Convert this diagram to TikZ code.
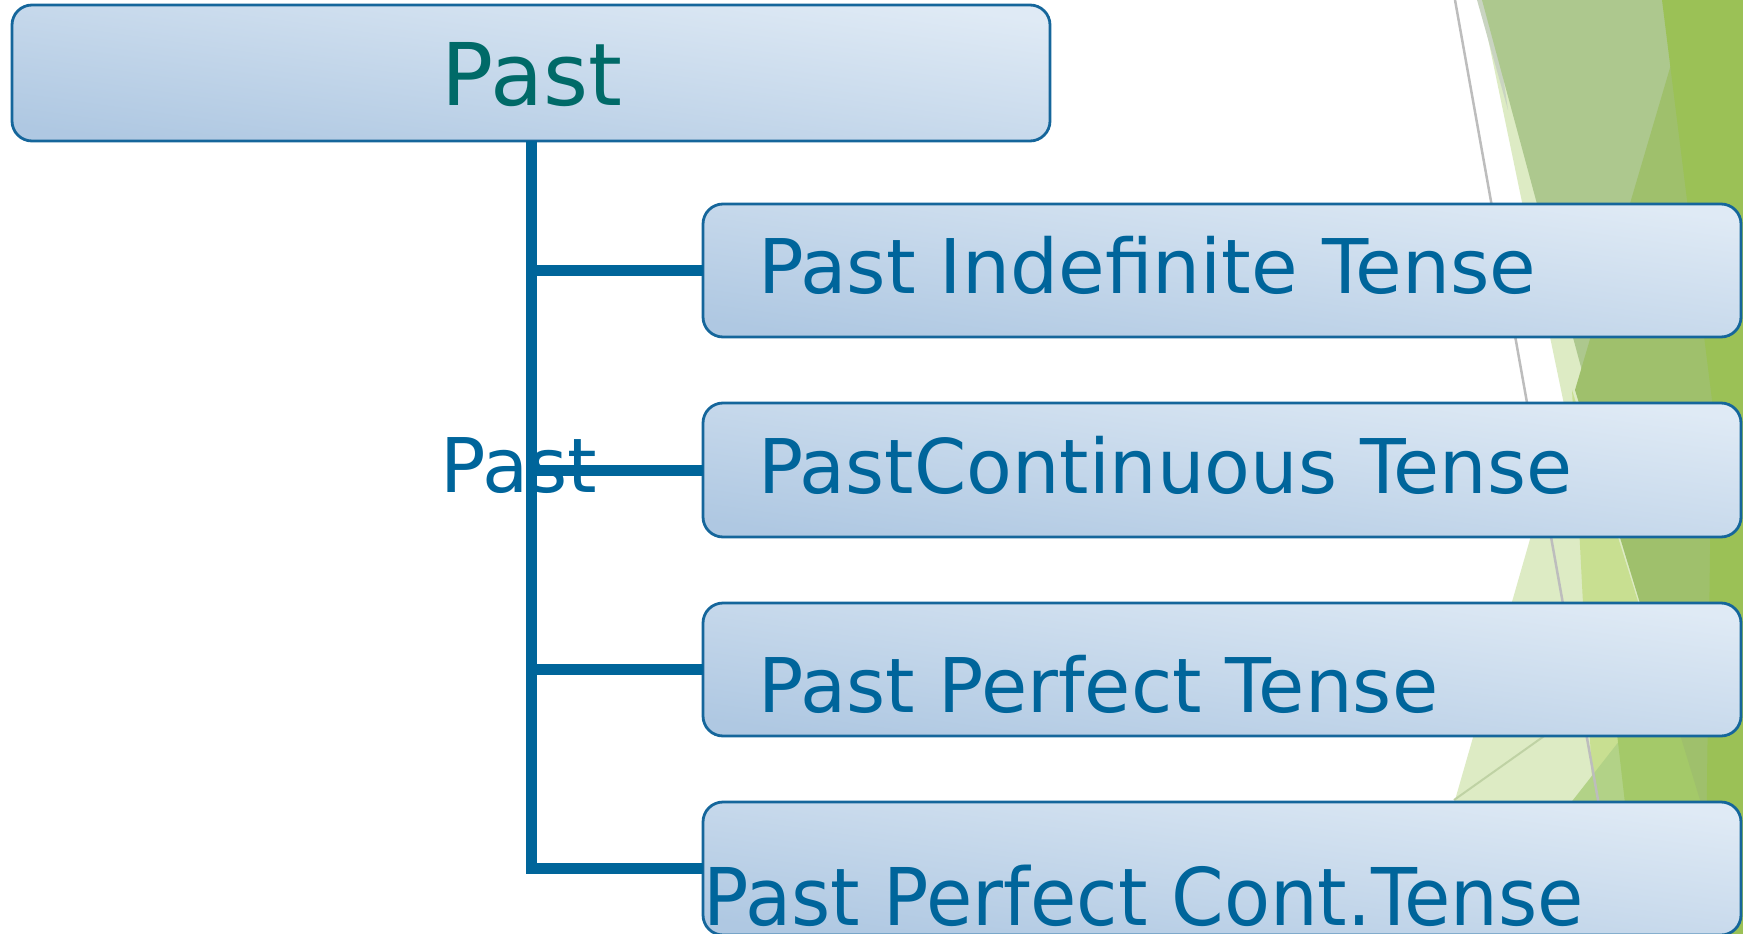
\documentclass[tikz,border=0pt]{standalone}
\usepackage{fontspec}
\setmainfont{DejaVu Sans}
\usepackage{graphicx}
\usetikzlibrary{calc}
\definecolor{bxlight}{HTML}{DFEAF5}
\definecolor{bxdark}{HTML}{AFC8E2}
\definecolor{bxborder}{HTML}{15669B}
\definecolor{txtblue}{HTML}{00659B}
\definecolor{txtteal}{HTML}{006A68}
\definecolor{conncol}{HTML}{00659A}
\definecolor{gpale}{HTML}{DDEBC4}
\definecolor{gsliver}{HTML}{C9D4C1}
\definecolor{glight}{HTML}{C8DF91}
\definecolor{glow}{HTML}{B2D287}
\definecolor{gmid}{HTML}{A4C969}
\definecolor{gmed}{HTML}{ADC88E}
\definecolor{gdark}{HTML}{9FC06C}
\definecolor{gbright}{HTML}{9BC156}
\definecolor{lgray}{HTML}{BDBDBD}
\definecolor{lgreen}{HTML}{BFD2A4}
\begin{document}
\begin{tikzpicture}[x=1pt,y=-1pt,
  bx/.style={draw=bxborder, line width=2.8pt, rounded corners=20pt,
    shading=axis, top color=bxlight, bottom color=bxdark, shading angle=-8,
    inner sep=0pt, outer sep=0pt, anchor=north west},
  conn/.style={draw=conncol, line width=11pt},
  lbl/.style={inner sep=0pt, outer sep=0pt, anchor=base west, text=txtblue,
    font=\fontsize{75.4}{90}\selectfont}]
\useasboundingbox (0,0) rectangle (1743,934);
% background facets
\fill[gpale] (1480,0) -- (1743,0) -- (1743,934) -- (1417,934) -- (1455,800) -- (1566,414) -- cycle;
\fill[gsliver] (1477,0) -- (1492,0) -- (1508,110) -- cycle;
\fill[glight] (1572,390) -- (1700,800) -- (1700,934) -- (1600,934) -- cycle;
\fill[glow] (1743,583) -- (1743,934) -- (1468,934) -- cycle;
\fill[gmid] (1612,690) -- (1700,690) -- (1700,934) -- (1640,934) -- cycle;
\fill[gmed] (1482,0) -- (1692,0) -- (1585,382) -- cycle;
\fill[gdark] (1690,0) -- (1743,0) -- (1743,934) -- (1700,934) -- (1700,800) -- (1575,390) -- cycle;
\fill[gbright] (1662,0) -- (1743,0) -- (1743,934) -- (1705,934) -- (1712,400) -- cycle;
\draw[lgray, line width=2.5pt] (1455,0) -- (1622,934);
\draw[lgreen, line width=2pt] (1454,800) -- (1640,668);
% boxes
\node[bx, minimum width=1038pt, minimum height=136pt] (p) at (12,5) {};
\node[bx, minimum width=1038pt, minimum height=133pt] (c1) at (703,204) {};
\node[bx, minimum width=1038pt, minimum height=134pt] (c2) at (703,403) {};
\node[bx, minimum width=1038pt, minimum height=133pt] (c3) at (703,603) {};
\node[bx, minimum width=1038pt, minimum height=133pt] (c4) at (703,802) {};
% connectors
\draw[conn, line join=miter] (p.south) -- (p.south |- c4.west) -- (c4.west);
\draw[conn] (p.south |- c1.west) -- (c1.west);
\draw[conn] (p.south |- c2.west) -- (c2.west);
\draw[conn] (p.south |- c3.west) -- (c3.west);
% labels
\node[inner sep=0pt, outer sep=0pt, anchor=base, text=txtteal,
  font=\fontsize{86.5}{100}\selectfont] (pt) at ($(p.north)+(1,101)$) {Past};
\node[lbl] (t1) at ($(c1.north west)+(55,89)$) {\scalebox{1.005}[1]{Past Indefinite Tense}};
\node[lbl] (t2) at ($(c2.north west)+(55,90)$) {\scalebox{0.993}[1]{PastContinuous Tense}};
\node[lbl] (t3) at ($(c3.north west)+(55,109)$) {\scalebox{0.997}[1]{Past Perfect Tense}};
\node[lbl, font=\fontsize{79.6}{95}\selectfont] (t4) at ($(c4.north west)+(0,123)$) {\scalebox{0.946}[1]{Past Perfect Cont.Tense}};
\node[lbl] (mid) at (440,492) {Past};
\end{tikzpicture}
\end{document}
